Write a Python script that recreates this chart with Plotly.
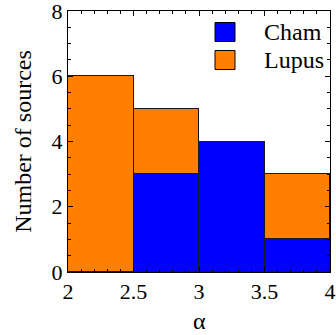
import plotly.graph_objects as go

bin_centers = [2.25, 2.75, 3.25, 3.75]
bin_width = 0.5
cham = [0, 3, 4, 1]
lupus = [6, 2, 0, 2]
series = [("Cham", cham, "#0000FF"), ("Lupus", lupus, "#FF8000")]

FONT = "Liberation Serif, DejaVu Serif, serif"
fig = go.Figure()
for name, vals, col in series:
    fig.add_trace(go.Bar(x=bin_centers, y=vals, width=bin_width, name=name,
                         marker=dict(color=col, line=dict(color="#1a1a1a", width=1)),
                         showlegend=False))

# manual legend (square swatches + text)
L, R, T, B = 68, 330, 11, 272
def px(x): return (x - L) / (R - L)
def py(y): return (B - y) / (B - T)
for i, (name, vals, col) in enumerate(series):
    cy = 32 + 28 * i
    fig.add_shape(type="rect", xref="paper", yref="paper",
                  x0=px(215), x1=px(235), y0=py(cy + 9.5), y1=py(cy - 9.5),
                  fillcolor=col, line=dict(color="black", width=1))
    fig.add_annotation(text=name, xref="paper", yref="paper", x=px(262), y=py(cy),
                       xanchor="left", yanchor="middle", showarrow=False,
                       font=dict(family=FONT, size=24, color="black"))

# x-axis title
fig.add_annotation(text="α", xref="paper", yref="paper", x=0.5, y=py(334.5),
                   xanchor="center", yanchor="bottom", showarrow=False, borderpad=0,
                   font=dict(family=FONT, size=24, color="black"))

axis_common = dict(showline=True, linecolor="black", linewidth=1, mirror="allticks",
                   ticks="inside", ticklen=5, tickcolor="black", showgrid=False,
                   zeroline=False, automargin=False, ticklabeloverflow="allow",
                   tickfont=dict(family=FONT, size=22, color="black"))
fig.update_xaxes(range=[2, 4], tickvals=[2, 2.5, 3, 3.5, 4], ticktext=["2", "2.5", "3", "3.5", "4"],
                 minor=dict(dtick=0.1, ticks="inside", ticklen=3, tickcolor="black"),
                 **axis_common)
fig.update_yaxes(range=[0, 8], tickvals=[0, 2, 4, 6, 8],
                 minor=dict(dtick=0.5, ticks="inside", ticklen=3, tickcolor="black"),
                 title=dict(text="Number of sources", font=dict(family=FONT, size=24, color="black"), standoff=13),
                 **axis_common)
fig.update_layout(width=336, height=335, barmode="stack", bargap=0,
                  plot_bgcolor="white", paper_bgcolor="white",
                  margin=dict(l=L, r=336 - R, t=T, b=335 - B, autoexpand=False),
                  font=dict(family=FONT, size=22, color="black"),
                  showlegend=False)
fig.write_html("out.html")
